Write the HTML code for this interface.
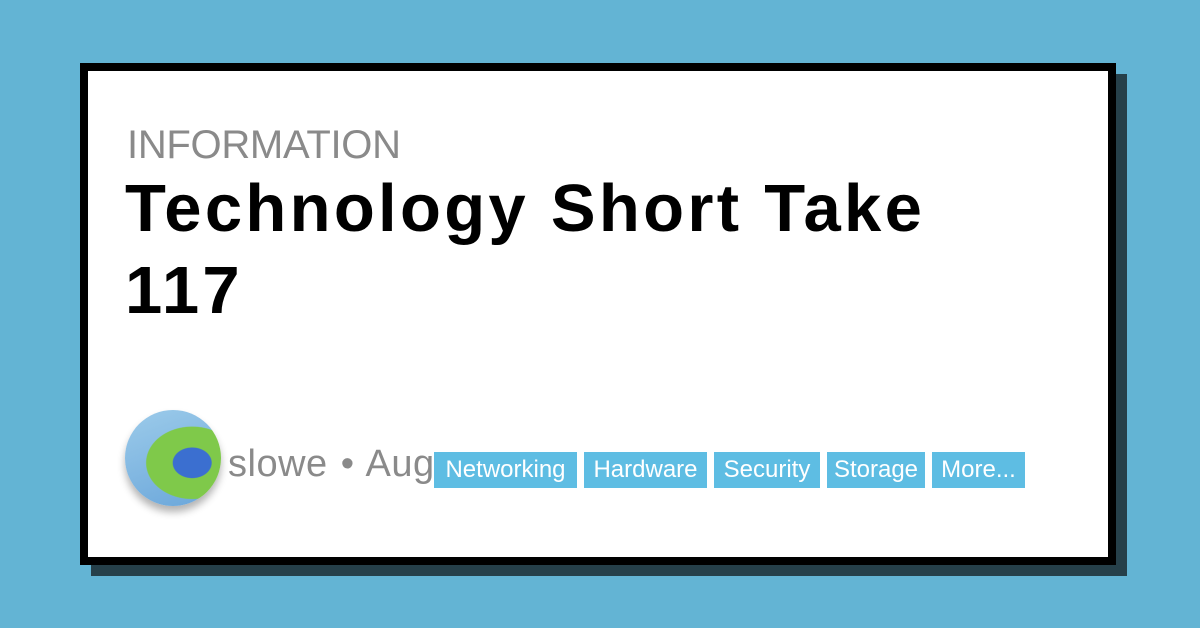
<!DOCTYPE html>
<html><head><style>
body{margin:0;width:1200px;height:628px;background:#63b4d4;position:relative;overflow:hidden;font-family:"Liberation Sans",sans-serif}
.sh{position:absolute;left:91px;top:74px;width:1036px;height:502px;background:#26404a}
.card{position:absolute;left:80px;top:63px;width:1020px;height:486px;background:#fff;border:8px solid #000}
.info{position:absolute;left:127px;top:123px;font-size:40px;color:#8a8a8a;letter-spacing:-0.3px}
.t{position:absolute;left:125px;top:168px;font-size:67px;font-weight:bold;line-height:82px;color:#000;letter-spacing:3.3px}
.av{position:absolute;left:125px;top:410px;width:96px;height:96px;border-radius:50%;background:radial-gradient(ellipse at 70% 55%,#3b6fd0 0 20%,#7fc94a 21% 48%,transparent 49%),linear-gradient(160deg,#9ccbea,#6aa6da);box-shadow:0 6px 8px rgba(0,0,0,.3)}
.m{position:absolute;left:228px;top:443px;font-size:38px;color:#8a8a8a;letter-spacing:0.5px;word-spacing:2px}
.tag{position:absolute;top:452px;height:36px;background:#5ebde3;color:#fff;font-size:24px;line-height:36px;text-align:center}
</style></head><body>
<div class="sh"></div>
<div class="card"></div>
<div class="info">INFORMATION</div>
<div class="t">Technology Short Take<br>117</div>
<div class="av"></div>
<div class="m">slowe • Aug</div>
<div class="tag" style="left:434px;width:143px">Networking</div>
<div class="tag" style="left:584px;width:123px">Hardware</div>
<div class="tag" style="left:714px;width:106px">Security</div>
<div class="tag" style="left:827px;width:98px">Storage</div>
<div class="tag" style="left:932px;width:93px">More...</div>
</body></html>
